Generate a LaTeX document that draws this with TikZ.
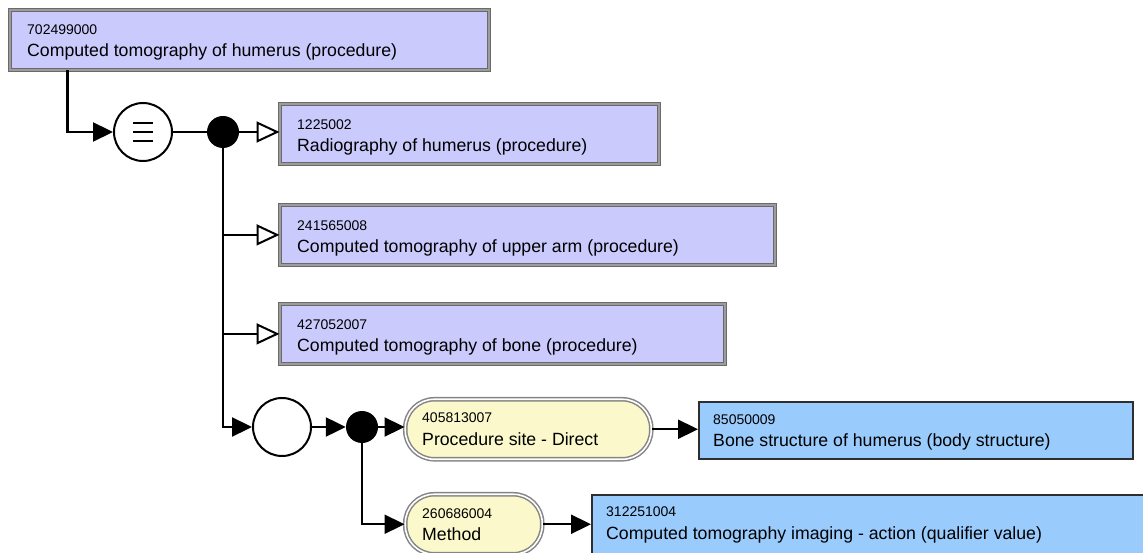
\documentclass[tikz,border=0pt]{standalone}
\usepackage{fontspec}
\setmainfont{Liberation Sans}
\usetikzlibrary{arrows.meta}
\definecolor{lav}{HTML}{CACAFD}
\definecolor{lavedge}{HTML}{6A6A6A}
\definecolor{lavmid}{HTML}{9C9C9C}
\definecolor{yel}{HTML}{FBF9CB}
\definecolor{yeledge}{HTML}{858585}
\definecolor{blu}{HTML}{99CBFC}
\definecolor{bluedge}{HTML}{2E2E2E}
\tikzset{
  conc/.style={rectangle, draw=lavedge, double=lavmid, double distance=2.4pt, line width=0.8pt, fill=lav, inner sep=0pt, anchor=north west},
  attr/.style={rectangle, draw=yeledge, double=white, double distance=1.6pt, line width=1.5pt, fill=yel, rounded corners=29pt, inner sep=0pt, anchor=north west},
  valbox/.style={rectangle, draw=bluedge, line width=2pt, fill=blu, inner sep=0pt, anchor=north west},
  numtxt/.style={anchor=base west, inner sep=0pt, font=\fontsize{14}{16}\selectfont, text=black},
  maintxt/.style={anchor=base west, inner sep=0pt, font=\fontsize{17.7}{20}\selectfont, text=black},
  opcirc/.style={circle, draw=black, line width=2pt, fill=white, minimum size=58pt, inner sep=0pt},
  dotnode/.style={circle, fill=black, minimum size=32pt, inner sep=0pt},
  conn/.style={line width=2.3pt, draw=black},
  filledtip/.style={-{Triangle[length=20pt,width=19pt]}},
  opentip/.style={-{Triangle[open,length=23pt,width=21pt,fill=white,line width=2pt]}},
  bar/.style={line width=2.4pt},
}
\begin{document}
\begin{tikzpicture}[x=1pt,y=-1pt]
\useasboundingbox (0,0) rectangle (1143,553);
% concept boxes
\node[conc, minimum width=479pt, minimum height=60pt] (b0) at (9.5,9.5) {};
\node[numtxt] (b0n) at (27,35) {702499000};
\node[maintxt] (b0m) at (27,57) {Computed tomography of humerus (procedure)};

\node[conc, minimum width=379pt, minimum height=60pt] (b1) at (279.5,103.5) {};
\node[numtxt] (b1n) at (297,130) {1225002};
\node[maintxt] (b1m) at (297,152) {Radiography of humerus (procedure)};

\node[conc, minimum width=495pt, minimum height=60pt] (b2) at (279.5,204.5) {};
\node[numtxt] (b2n) at (297,231) {241565008};
\node[maintxt] (b2m) at (297,253) {Computed tomography of upper arm (procedure)};

\node[conc, minimum width=445pt, minimum height=60pt] (b3) at (279.5,303.5) {};
\node[numtxt] (b3n) at (297,330) {427052007};
\node[maintxt] (b3m) at (297,352) {Computed tomography of bone (procedure)};

% attribute pills
\node[attr, minimum width=246pt, minimum height=60pt] (p1) at (404.5,398.5) {};
\node[numtxt] (p1n) at (422,422) {405813007};
\node[maintxt] (p1m) at (422,445) {Procedure site - Direct};

\node[attr, minimum width=137pt, minimum height=60pt] (p2) at (404.5,493.5) {};
\node[numtxt] (p2n) at (422,518) {260686004};
\node[maintxt] (p2m) at (422,540) {Method};

% value boxes
\node[valbox, minimum width=434pt, minimum height=57pt] (c1) at (698,401) {};
\node[numtxt] (c1n) at (713,424) {85050009};
\node[maintxt] (c1m) at (713,446) {Bone structure of humerus (body structure)};

\node[valbox, minimum width=560pt, minimum height=62pt] (c2) at (591,494) {};
\node[numtxt] (c2n) at (606,516) {312251004};
\node[maintxt] (c2m) at (606,539) {Computed tomography imaging - action (qualifier value)};

% operators
\node[opcirc] (eq) at (143,132) {};
\draw[bar] ([xshift=-10pt,yshift=9pt]eq.center) -- ++(20pt,0);
\draw[bar] ([xshift=-10pt]eq.center) -- ++(20pt,0);
\draw[bar] ([xshift=-10pt,yshift=-9pt]eq.center) -- ++(20pt,0);
\node[dotnode] (d1) at (223,132) {};
\node[opcirc] (g2) at (282,427) {};
\node[dotnode] (d2) at (362,427) {};

% connectors
\coordinate (start) at ([xshift=58pt]b0.south west);
\draw[conn, filledtip] (start) |- (eq.west);
\draw[conn] (eq.east) -- (d1.west);
\draw[conn, opentip] (d1.east) -- (d1.east -| b1.west);
\draw[conn, filledtip] (d1.south) |- (g2.west);
\draw[conn, opentip] (d1.south |- b2.west) -- (b2.west);
\draw[conn, opentip] (d1.south |- b3.west) -- (b3.west);
\draw[conn, filledtip] (g2.east) -- (d2.west);
\draw[conn, filledtip] (d2.east) -- (d2.east -| p1.west);
\draw[conn, filledtip] (d2.south) |- (p2.west);
\draw[conn, filledtip] (p1.east) -- (p1.east -| c1.west);
\draw[conn, filledtip] (p2.east) -- (p2.east -| c2.west);
\end{tikzpicture}
\end{document}
